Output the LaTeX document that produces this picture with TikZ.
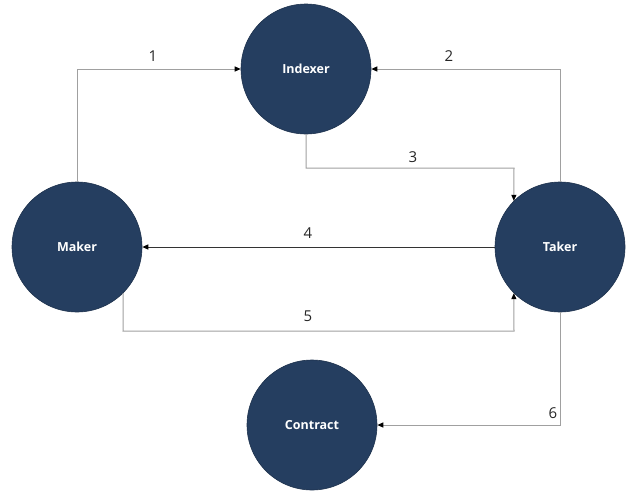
\documentclass[tikz,border=0pt]{standalone}
\usepackage{fontspec}
\setmainfont{Open Sans}
\usetikzlibrary{arrows.meta}
\definecolor{navy}{RGB}{37,62,96}
\definecolor{conn}{RGB}{160,160,160}
\tikzset{
  actor/.style={circle,fill=navy,draw=navy!80!black,line width=0.6pt,minimum size=130pt,inner sep=0pt,text=white,font=\bfseries\fontsize{12.5}{14}\selectfont},
  link/.style={draw=conn,line width=1pt,-{Triangle[length=6pt,width=5pt,color=black]}},
  num/.style={font=\fontsize{15}{17}\selectfont,text=black!85}
}
\begin{document}
\begin{tikzpicture}[x=1pt,y=-1pt]
\useasboundingbox (0,0) rectangle (632,493);
\node[actor] (indexer) at (306,69) {Indexer};
\node[actor] (maker) at (77,247) {Maker};
\node[actor] (taker) at (560,247) {Taker};
\node[actor] (contract) at (312,425) {Contract};
\coordinate (c3) at (306,168);
\coordinate (c3b) at (514,168);
\coordinate (c5) at (123,331);
\coordinate (c5b) at (514,331);
\draw[link] (maker.north) |- (indexer.west);
\draw[link] (taker.north) |- (indexer.east);
\draw[link] (indexer.south) -- (c3) -- (c3b) -- (taker.135);
\draw[link,draw=black!80] (taker.west) -- (maker.east);
\draw[link] (maker.-45) -- (c5) -- (c5b) -- (taker.-135);
\draw[link] (taker.south) |- (contract.east);
\node[num] (n1) at (153,56) {1};
\node[num] (n2) at (449,56) {2};
\node[num] (n3) at (413,157) {3};
\node[num] (n4) at (308,233) {4};
\node[num] (n5) at (308,316) {5};
\node[num] (n6) at (553,413) {6};
\end{tikzpicture}
\end{document}
